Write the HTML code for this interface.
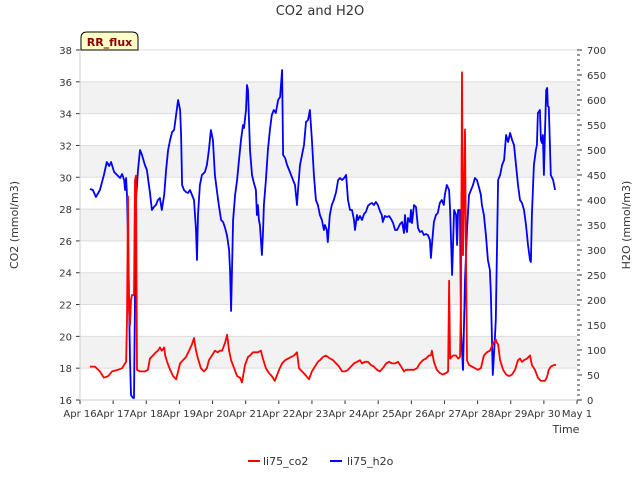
<!DOCTYPE html>
<html><head><meta charset="utf-8"><style>
body{margin:0;background:#fff;font-family:"Liberation Sans","DejaVu Sans",sans-serif}
svg text{font-family:"DejaVu Sans","Liberation Sans",sans-serif}
</style></head><body>
<svg id="chart" width="640" height="480" viewBox="0 0 640 480">
<rect width="640" height="480" fill="#fff"/>
<text x="320" y="15" text-anchor="middle" font-size="13" fill="#333">CO2 and H2O</text>
<g id="grid"></g><g id="axes"></g><g id="series"></g>
<g>
<path d="M81,50 L81,38 Q81,32 87,32 L132,32 Q138,32 138,38 L138,50 Z" fill="#ffffc8" stroke="#000" stroke-width="1"/>
<text x="109.5" y="46" text-anchor="middle" font-size="11" font-weight="bold" fill="#8b0000">RR_flux</text></g>
<text transform="translate(18,225) rotate(-90)" text-anchor="middle" font-size="11" fill="#333">CO2 (mmol/m3)</text>
<text transform="translate(630,225) rotate(-90)" text-anchor="middle" font-size="11" fill="#333">H2O (mmol/m3)</text>
<text x="566" y="433" text-anchor="middle" font-size="11" fill="#333">Time</text>
<g><line x1="248" y1="461" x2="260" y2="461" stroke="#f00" stroke-width="2"/><text x="263" y="465" font-size="11" fill="#333">li75_co2</text></g>
<g><line x1="330" y1="461" x2="342" y2="461" stroke="#00f" stroke-width="2"/><text x="347" y="465" font-size="11" fill="#333">li75_h2o</text></g>
</svg>
<script>
const xTickLabels=["Apr 16","Apr 17","Apr 18","Apr 19","Apr 20","Apr 21","Apr 22","Apr 23","Apr 24","Apr 25","Apr 26","Apr 27","Apr 28","Apr 29","Apr 30","May 1"];
const leftTicks=[16,18,20,22,24,26,28,30,32,34,36,38];
const rightTicks=[0,50,100,150,200,250,300,350,400,450,500,550,600,650,700];
const h2oDays=[0.30,0.39,0.48,0.60,0.72,0.81,0.88,0.94,1.03,1.12,1.21,1.27,1.33,1.36,1.39,1.42,1.45,1.48,1.51,1.54,1.60,1.63,1.66,1.69,1.75,1.81,1.87,1.96,2.02,2.08,2.11,2.17,2.23,2.29,2.35,2.41,2.47,2.54,2.60,2.66,2.72,2.78,2.84,2.90,2.96,3.02,3.05,3.08,3.14,3.20,3.26,3.32,3.38,3.44,3.50,3.53,3.56,3.62,3.68,3.77,3.83,3.89,3.95,4.01,4.07,4.13,4.19,4.26,4.32,4.38,4.44,4.50,4.53,4.56,4.62,4.68,4.74,4.80,4.86,4.92,4.95,5.01,5.04,5.07,5.13,5.19,5.25,5.31,5.34,5.37,5.40,5.43,5.49,5.52,5.55,5.61,5.67,5.73,5.79,5.85,5.91,5.98,6.04,6.10,6.13,6.19,6.25,6.31,6.37,6.43,6.49,6.55,6.58,6.64,6.70,6.76,6.82,6.88,6.94,7.00,7.06,7.12,7.18,7.24,7.30,7.36,7.39,7.45,7.48,7.54,7.60,7.66,7.73,7.79,7.85,7.91,7.97,8.03,8.09,8.15,8.21,8.27,8.30,8.36,8.39,8.45,8.51,8.57,8.63,8.69,8.75,8.81,8.87,8.93,8.99,9.05,9.11,9.14,9.20,9.27,9.33,9.39,9.45,9.51,9.57,9.63,9.66,9.72,9.78,9.81,9.84,9.87,9.90,9.96,9.99,10.02,10.08,10.14,10.20,10.26,10.32,10.38,10.44,10.50,10.56,10.59,10.62,10.68,10.74,10.80,10.86,10.92,10.98,11.01,11.07,11.14,11.17,11.23,11.29,11.35,11.38,11.41,11.47,11.50,11.56,11.62,11.68,11.74,11.80,11.86,11.92,11.98,12.04,12.10,12.13,12.19,12.25,12.31,12.37,12.40,12.46,12.52,12.55,12.62,12.68,12.74,12.80,12.86,12.92,12.98,13.04,13.10,13.16,13.22,13.28,13.34,13.40,13.46,13.52,13.58,13.61,13.64,13.70,13.76,13.79,13.82,13.88,13.91,13.94,13.97,14.00,14.03,14.07,14.10,14.12,14.15,14.21,14.28,14.34];
const h2oValues=[422,420,406,420,450,476,468,476,456,450,444,452,440,420,444,410,320,200,80,10,4,4,200,400,460,500,490,470,460,430,416,380,386,390,400,404,380,410,460,500,520,536,540,570,600,580,530,430,420,416,414,420,410,400,340,280,370,430,450,456,470,500,540,520,450,420,390,360,356,344,328,300,256,178,360,410,440,480,520,550,544,580,630,620,500,450,434,420,370,390,360,350,290,330,390,440,500,540,570,580,574,600,606,660,490,484,470,460,450,440,430,390,420,470,490,510,556,560,580,520,450,400,390,370,360,340,350,340,316,370,390,400,416,440,444,440,444,450,400,380,380,360,340,370,360,368,360,372,376,388,392,394,390,396,390,378,370,356,368,366,368,362,354,340,340,348,352,356,334,370,344,336,364,356,380,354,390,386,344,336,338,330,332,330,320,284,310,356,370,374,394,400,390,410,430,420,380,250,380,370,310,380,380,140,60,240,340,410,420,430,444,440,426,410,390,370,330,280,260,210,50,120,160,440,450,470,480,530,516,534,520,510,470,430,400,394,380,350,310,280,276,370,470,500,510,574,580,520,514,530,450,530,620,624,588,586,450,440,420];
const co2Days=[0.30,0.45,0.60,0.72,0.85,0.97,1.15,1.27,1.33,1.39,1.42,1.45,1.48,1.51,1.54,1.57,1.63,1.66,1.69,1.72,1.81,1.96,2.05,2.11,2.20,2.29,2.35,2.41,2.47,2.54,2.57,2.63,2.72,2.81,2.90,2.96,3.02,3.11,3.20,3.29,3.38,3.44,3.50,3.56,3.65,3.74,3.83,3.89,3.98,4.07,4.16,4.22,4.29,4.38,4.44,4.50,4.56,4.65,4.74,4.83,4.89,4.98,5.07,5.13,5.22,5.31,5.37,5.46,5.52,5.61,5.70,5.79,5.88,6.01,6.10,6.19,6.28,6.37,6.46,6.55,6.61,6.70,6.79,6.91,7.00,7.09,7.18,7.24,7.33,7.42,7.55,7.64,7.73,7.82,7.91,8.00,8.09,8.18,8.27,8.36,8.45,8.51,8.60,8.69,8.78,8.87,8.96,9.05,9.14,9.24,9.33,9.42,9.51,9.60,9.66,9.72,9.78,9.84,9.90,9.99,10.08,10.17,10.26,10.35,10.44,10.53,10.59,10.62,10.68,10.77,10.86,10.95,11.05,11.11,11.14,11.17,11.26,11.35,11.41,11.47,11.50,11.53,11.56,11.59,11.62,11.65,11.68,11.74,11.83,11.92,12.01,12.10,12.19,12.28,12.37,12.46,12.55,12.58,12.62,12.68,12.77,12.86,12.95,13.04,13.13,13.22,13.28,13.34,13.40,13.49,13.58,13.64,13.73,13.82,13.91,14.03,14.09,14.15,14.21,14.31,14.37];
const co2Values=[18.1,18.1,17.8,17.4,17.5,17.8,17.9,18.0,18.2,18.4,21.0,28.8,21.7,20.7,22.3,22.6,22.6,29.8,30.1,17.9,17.8,17.8,17.9,18.6,18.8,19.0,19.1,19.3,19.1,19.3,18.8,18.4,17.9,17.5,17.3,17.8,18.3,18.5,18.7,19.1,19.5,19.9,19.1,18.6,18.0,17.8,18.0,18.5,18.8,19.1,19.0,19.1,19.1,19.6,20.1,19.1,18.5,18.0,17.5,17.4,17.1,18.2,18.7,18.8,19.0,19.0,19.0,19.1,18.6,18.0,17.7,17.5,17.2,17.9,18.3,18.5,18.6,18.7,18.8,19.0,18.0,17.8,17.6,17.3,17.8,18.1,18.4,18.5,18.7,18.8,18.6,18.5,18.3,18.1,17.8,17.8,17.9,18.1,18.3,18.4,18.5,18.3,18.4,18.4,18.2,18.1,17.9,17.8,18.0,18.3,18.4,18.3,18.3,18.4,18.2,18.0,17.8,17.9,17.9,17.9,17.9,18.0,18.3,18.5,18.6,18.8,18.8,19.1,18.4,17.9,17.7,17.6,17.7,17.8,23.5,18.6,18.8,18.8,18.6,18.7,22.3,36.6,25.1,28.6,33.0,24.9,18.5,18.2,18.1,18.0,17.9,18.0,18.8,19.0,19.1,19.5,19.8,19.6,19.5,18.5,17.9,17.6,17.5,17.6,17.9,18.5,18.6,18.4,18.5,18.6,18.8,18.2,17.9,17.4,17.2,17.2,17.4,17.9,18.1,18.2,18.2];
const NS="http://www.w3.org/2000/svg";
const X0=80,X1=577,Y0=400,Y1=50;
function xS(d){return X0+d*(X1-X0)/15;}
function yL(v){return Y0-(v-16)*(Y0-Y1)/22;}
function yR(v){return Y0-v*(Y0-Y1)/700;}
function mk(tag,attrs,parent){const e=document.createElementNS(NS,tag);for(const k in attrs)e.setAttribute(k,attrs[k]);parent.appendChild(e);return e;}
const grid=document.getElementById('grid'),axes=document.getElementById('axes'),ser=document.getElementById('series');
for(let i=0;i<leftTicks.length-1;i++){
  if(i%2===1){const r=mk('rect',{x:X0,y:yL(leftTicks[i+1]),width:X1-X0,height:yL(leftTicks[i])-yL(leftTicks[i+1]),fill:'#f2f2f2'},grid);
  
  }
}
leftTicks.forEach(v=>{
  const l=mk('line',{x1:X0,x2:X1,y1:yL(v),y2:yL(v),stroke:'#ddd','stroke-width':1},grid);
  
  
  mk('line',{x1:X0-4,x2:X0,y1:yL(v),y2:yL(v),stroke:'#333'},axes);
  const t=mk('text',{x:X0-8,y:yL(v)+4,'text-anchor':'end','font-size':10,fill:'#333'},axes);t.textContent=v;
  
  
});
for(let v=0;v<=700;v+=10){mk('line',{x1:X1,x2:X1+(v%50===0?5:3),y1:yR(v),y2:yR(v),stroke:'#333'},axes);}
rightTicks.forEach(v=>{
  const t=mk('text',{x:X1+10,y:yR(v)+4,'font-size':10,fill:'#333'},axes);t.textContent=v;
  
  
});
xTickLabels.forEach((s,i)=>{
  mk('line',{x1:xS(i),x2:xS(i),y1:Y0,y2:Y0+4,stroke:'#333'},axes);
  const t=mk('text',{x:xS(i),y:Y0+17,'text-anchor':'middle','font-size':10,fill:'#333'},axes);t.textContent=s;
  
  
});
mk('line',{x1:X0,x2:X0,y1:Y1,y2:Y0,stroke:'#ccc'},axes);
mk('line',{x1:X0,x2:X1,y1:Y0,y2:Y0,stroke:'#ccc'},axes);
const pb=mk('polyline',{points:h2oDays.map((d,i)=>xS(d).toFixed(1)+','+yR(h2oValues[i]).toFixed(1)).join(' '),fill:'none',stroke:'#00f','stroke-width':1.8,'stroke-linejoin':'round'},ser);


const pr=mk('polyline',{points:co2Days.map((d,i)=>xS(d).toFixed(1)+','+yL(co2Values[i]).toFixed(1)).join(' '),fill:'none',stroke:'#f00','stroke-width':1.8,'stroke-linejoin':'round'},ser);


</script>
</body></html>
